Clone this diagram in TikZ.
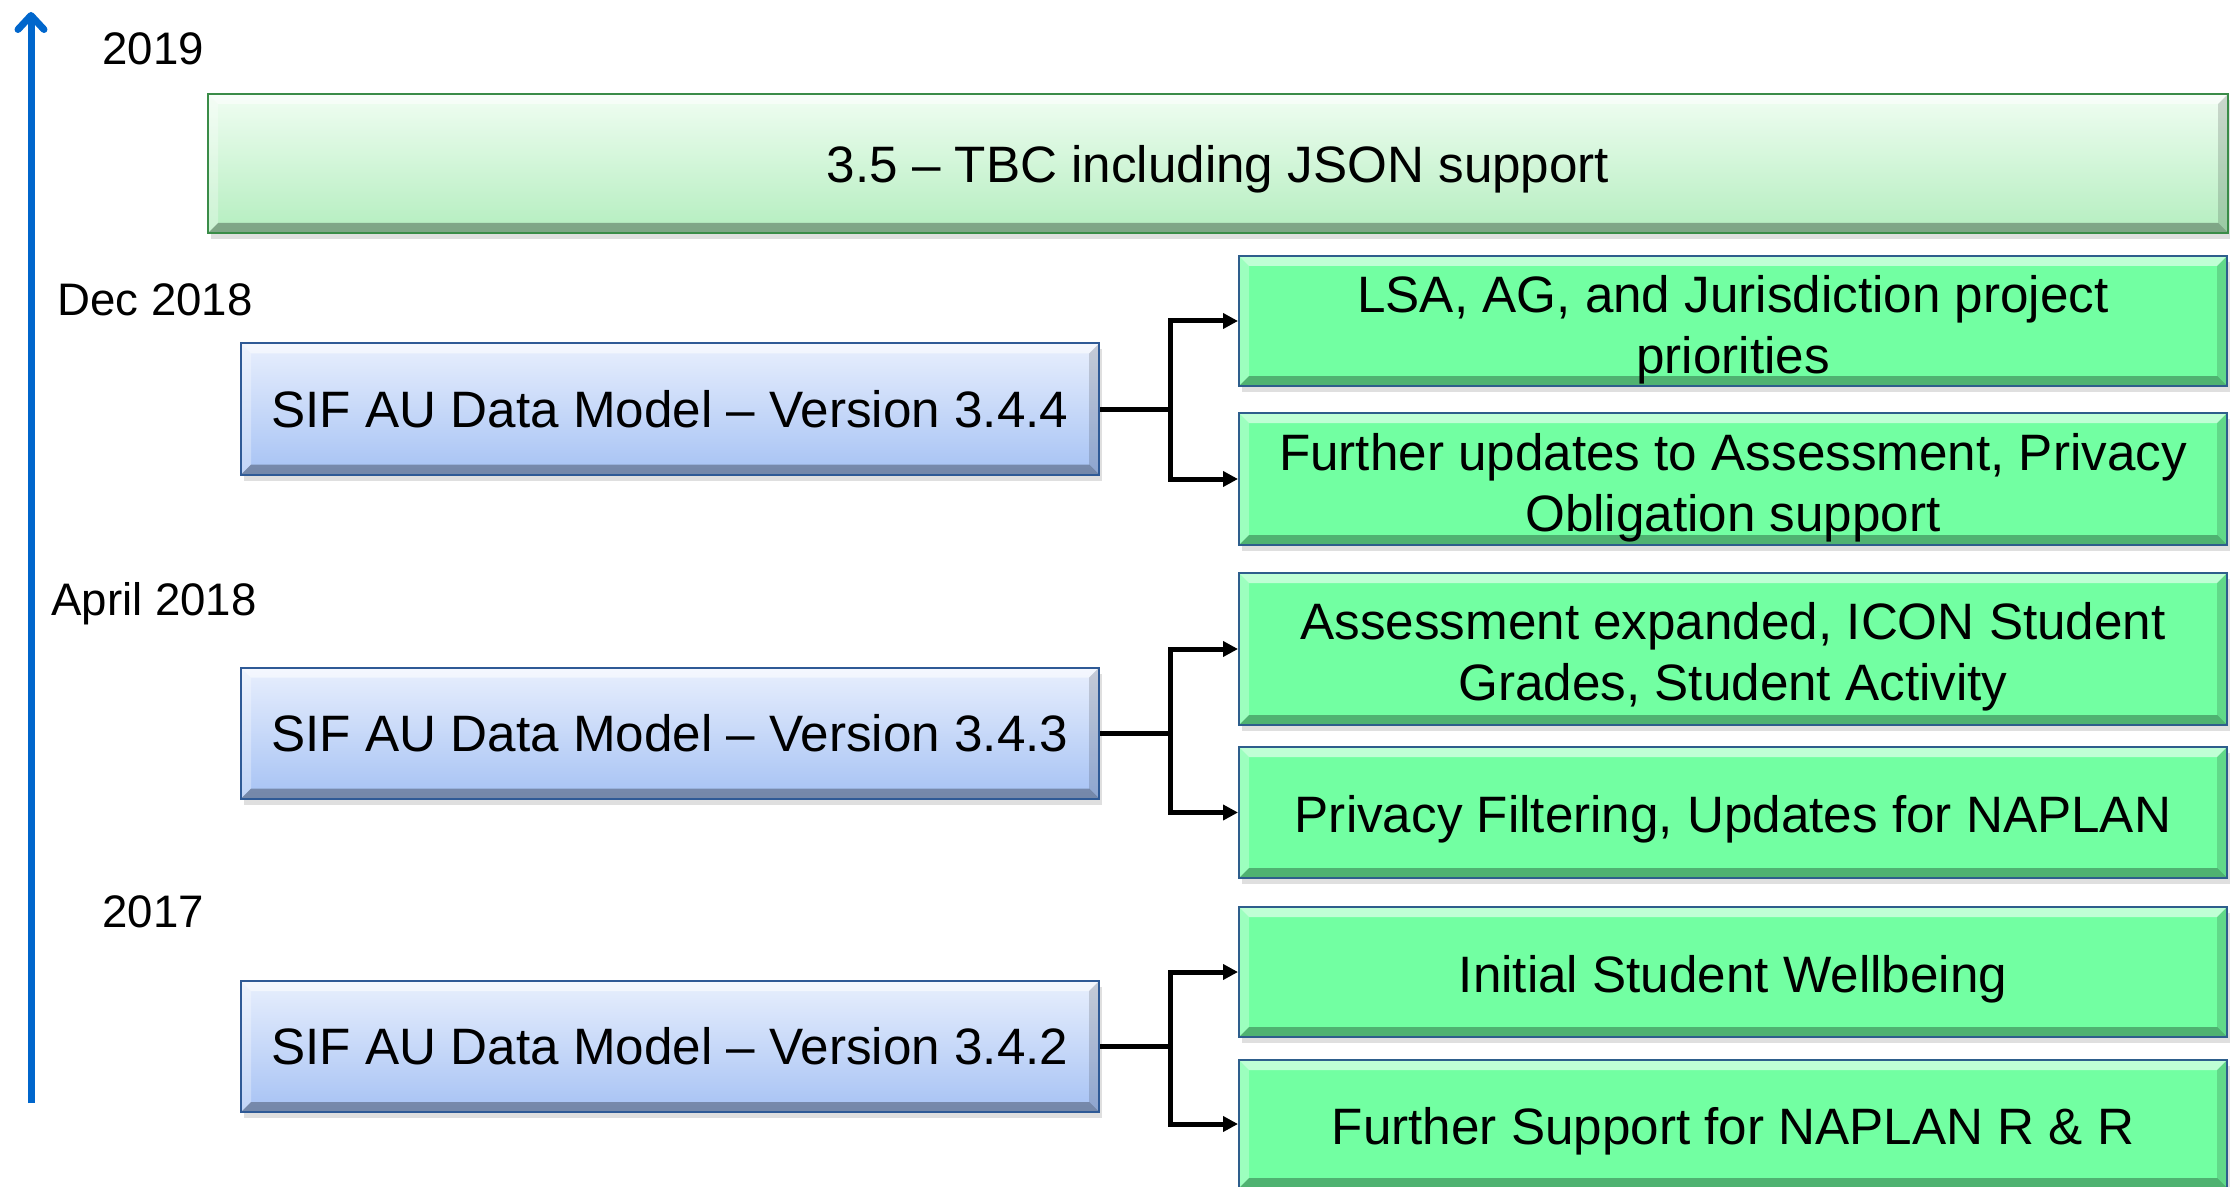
\documentclass[tikz,border=0pt]{standalone}
\usepackage{fontspec}
\setmainfont{Liberation Sans}
\usetikzlibrary{arrows.meta,shadows,calc}
\definecolor{axisblue}{HTML}{0066CC}
\definecolor{bluetop}{HTML}{E8EFFD}
\definecolor{bluebot}{HTML}{A6C2F4}
\definecolor{blueedge}{HTML}{2F5A96}
\definecolor{pgtop}{HTML}{F0FDF2}
\definecolor{pgbot}{HTML}{B4EEBF}
\definecolor{pgedge}{HTML}{3A8C48}
\definecolor{vgreen}{HTML}{72FFA2}
\definecolor{vgedge}{HTML}{2E5E8C}
\newcommand\dtext[2]{\raisebox{#1}[\height][\depth]{\begin{tabular}{@{}c@{}}#2\end{tabular}}}
\tikzset{
  bevel/.style={path picture={
    \fill[white,opacity=0.55] (path picture bounding box.north west) -- ++(5pt,-5pt)
      -- ([xshift=-5pt,yshift=-5pt]path picture bounding box.north east)
      -- (path picture bounding box.north east) -- cycle;
    \fill[white,opacity=0.3] (path picture bounding box.north west) -- ++(5pt,-5pt)
      -- ([xshift=5pt,yshift=5pt]path picture bounding box.south west)
      -- (path picture bounding box.south west) -- cycle;
    \fill[black,opacity=0.3] (path picture bounding box.south west) -- ++(5pt,5pt)
      -- ([xshift=-5pt,yshift=5pt]path picture bounding box.south east)
      -- (path picture bounding box.south east) -- cycle;
    \fill[black,opacity=0.15] (path picture bounding box.north east) -- ++(-5pt,-5pt)
      -- ([xshift=-5pt,yshift=5pt]path picture bounding box.south east)
      -- (path picture bounding box.south east) -- cycle;
  }},
  boxbase/.style={rectangle, inner sep=0pt, line width=1pt,
    font=\fontsize{25.6}{30.5}\selectfont, text=black,
    drop shadow={shadow xshift=1.5pt, shadow yshift=-3pt, opacity=0.25}, bevel},
  verbox/.style={boxbase, draw=blueedge, top color=bluetop, bottom color=bluebot,
    minimum width=429pt, minimum height=65.5pt},
  futbox/.style={boxbase, draw=pgedge, top color=pgtop, bottom color=pgbot,
    minimum width=1010pt, minimum height=69.5pt},
  featbox/.style={boxbase, draw=vgedge, fill=vgreen,
    minimum width=494pt},
  yearlbl/.style={font=\fontsize{22.8}{27}\selectfont, anchor=base west, inner sep=0pt},
  conn/.style={line width=2.5pt, -{Triangle[length=7.5pt,width=7.5pt]}},
  connplain/.style={line width=2.5pt},
  axisline/.style={draw=axisblue, line width=3.5pt,
    -{Straight Barb[length=7pt,width=13pt,line cap=round,line join=round]}}
}
\begin{document}
\begin{tikzpicture}[x=0.5pt,y=-0.5pt]
\useasboundingbox (0,0) rectangle (2230,1187);
\fill[white] (0,0) rectangle (2230,1187);

% time axis
\coordinate (a0) at (31,1103);
\coordinate (a1) at (31,12);
\draw[axisline] (a0) -- (a1);

% year labels
\node[yearlbl] (y2019) at (102,65) {2019};
\node[yearlbl] (ydec) at (57,316) {Dec 2018};
\node[yearlbl] (yapr) at (51,615) {April 2018};
\node[yearlbl] (y2017) at (102,927) {2017};

% future box
\node[futbox] (fut) at (1218,163.5) {\dtext{-3.5pt}{3.5 – TBC including JSON support}};

% version boxes
\node[verbox] (v344) at (670,409) {\dtext{-3pt}{SIF AU Data Model – Version 3.4.4}};
\node[verbox] (v343) at (670,733) {\dtext{-3pt}{SIF AU Data Model – Version 3.4.3}};
\node[verbox] (v342) at (670,1046.5) {\dtext{-3pt}{SIF AU Data Model – Version 3.4.2}};

% feature boxes
\node[featbox, minimum height=65pt] (f1) at (1733,321) {\dtext{-5pt}{LSA, AG, and Jurisdiction project\\priorities}};
\node[featbox, minimum height=66pt] (f2) at (1733,479) {\dtext{-5pt}{Further updates to Assessment, Privacy\\Obligation support}};
\node[featbox, minimum height=76pt] (f3) at (1733,649) {\dtext{-4.2pt}{Assessment expanded, ICON Student\\Grades, Student Activity}};
\node[featbox, minimum height=65.5pt] (f4) at (1733,812.5) {\dtext{-3.7pt}{Privacy Filtering, Updates for NAPLAN}};
\node[featbox, minimum height=65pt] (f5) at (1733,972) {\dtext{-4pt}{Initial Student Wellbeing}};
\node[featbox, minimum height=64pt] (f6) at (1733,1124) {\dtext{-4.2pt}{Further Support for NAPLAN R \& R}};

% connectors
\coordinate (j1) at (1170,409);
\coordinate (j2) at (1170,733);
\coordinate (j3) at (1170,1046.5);
\draw[connplain] (v344.east) -- (j1);
\draw[conn] (j1) |- (f1.west);
\draw[conn] (j1) |- (f2.west);
\draw[connplain] (v343.east) -- (j2);
\draw[conn] (j2) |- (f3.west);
\draw[conn] (j2) |- (f4.west);
\draw[connplain] (v342.east) -- (j3);
\draw[conn] (j3) |- (f5.west);
\draw[conn] (j3) |- (f6.west);
\end{tikzpicture}
\end{document}
